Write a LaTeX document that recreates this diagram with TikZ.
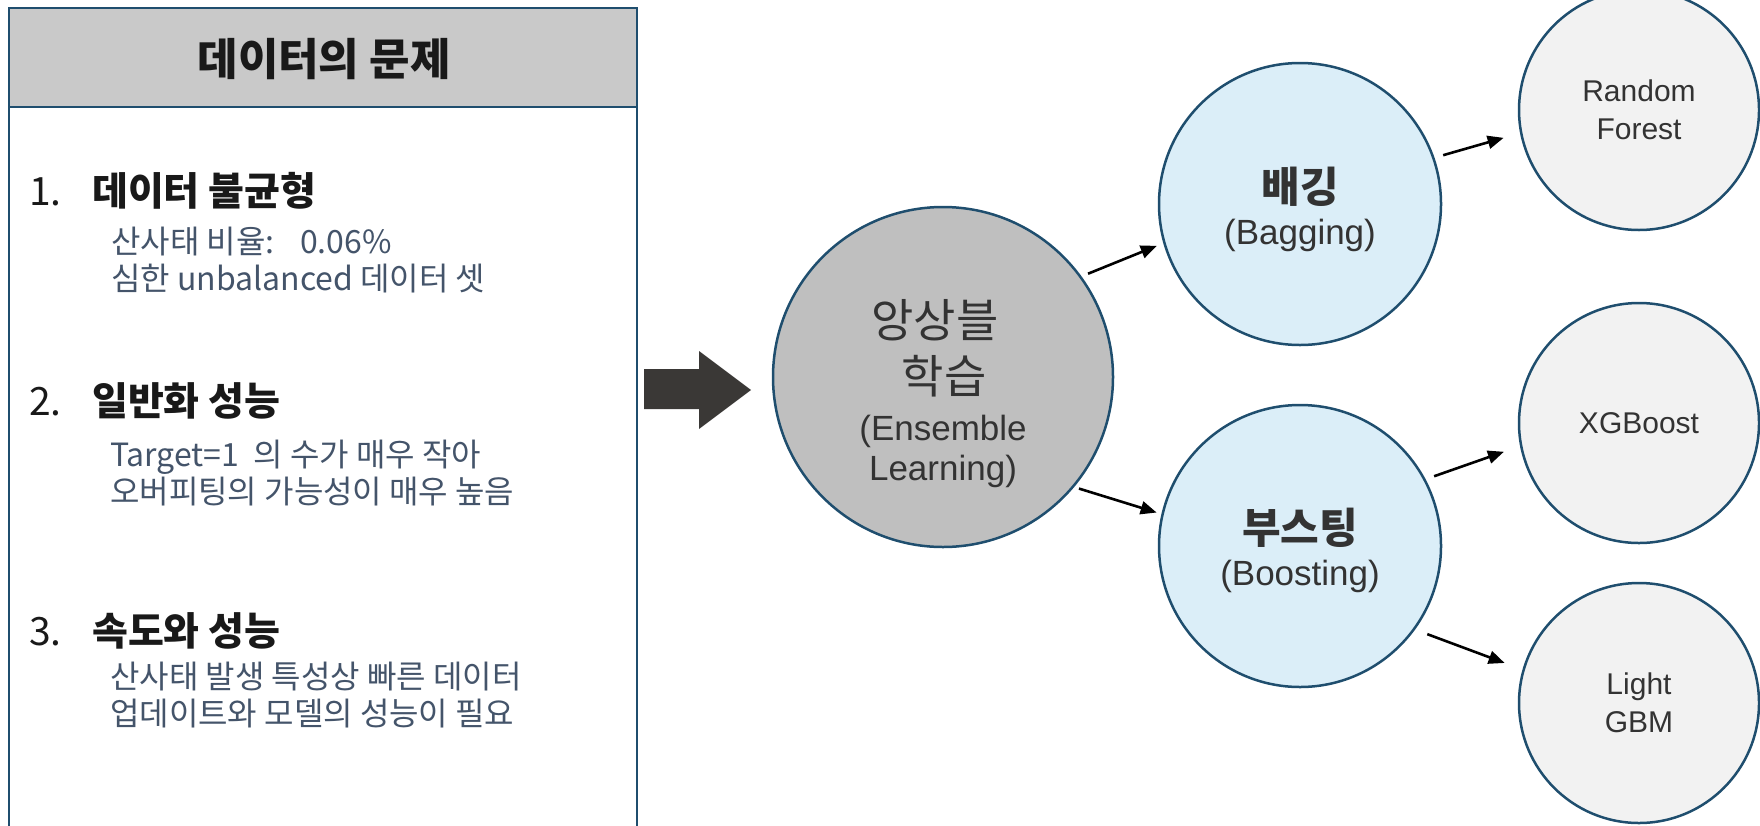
\documentclass[tikz,border=0pt]{standalone}
\usepackage{fontspec}
\setmainfont{Noto Sans CJK KR}
\newfontfamily\latinsf{Liberation Sans}
\usetikzlibrary{arrows.meta}
\definecolor{edgeblue}{HTML}{1F4E6E}
\definecolor{hdrgray}{HTML}{C9C9C9}
\definecolor{subtxt}{HTML}{44546A}
\definecolor{enscol}{HTML}{BFBFBF}
\definecolor{bagcol}{HTML}{DBEEF8}
\definecolor{leafcol}{HTML}{F2F2F2}
\definecolor{blkcol}{HTML}{3A3836}
\definecolor{circtxt}{HTML}{333333}
\tikzset{
    frame/.style={draw=edgeblue, line width=2pt},
    heading/.style={anchor=west, inner sep=0pt, text=black!90, font=\bfseries\fontsize{39}{44}\selectfont},
    detail/.style={anchor=west, inner sep=0pt, align=left, text=subtxt, font=\fontsize{32}{37}\selectfont},
    ball/.style={circle, draw=edgeblue, line width=2.5pt, inner sep=0pt, align=center, text=circtxt, minimum size=#1},
    enskr/.style={anchor=base, inner sep=0pt, text=circtxt, font=\fontsize{46}{50}\selectfont},
    ensen/.style={anchor=base, inner sep=0pt, text=circtxt, font=\latinsf\fontsize{35}{41}\selectfont},
    link/.style={-{Triangle[length=16pt,width=13pt]}, line width=2.6pt}
}

\begin{document}
\begin{tikzpicture}[x=1pt,y=-1pt]

		\useasboundingbox (0,0) rectangle (1760,825);
		\clip (0,0) rectangle (1760,825);

		% Problem box
		\fill [hdrgray] (9,8) rectangle (637,107);
		\draw [frame] (9,8) rectangle (637,850);
		\draw [frame] (9,107) -- (637,107);
		\node [text=black!90, font=\bfseries\fontsize{44}{50}\selectfont] (ttl) at (324,59) {데이터의 문제};

		% Item 1
		\node [heading] (h1) at (29,191) {\makebox[63pt][l]{\mdseries 1.}데이터 불균형};
		\node [detail] (d1) at (111,260) {산사태 비율:\hspace{0.8em}0.06\%\\심한 unbalanced 데이터 셋};

		% Item 2
		\node [heading] (h2) at (29,401) {\makebox[63pt][l]{\mdseries 2.}일반화 성능};
		\node [detail] (d2) at (110,473) {Target=1\ \ 의 수가 매우 작아\\오버피팅의 가능성이 매우 높음};

		% Item 3
		\node [heading] (h3) at (29,631) {\makebox[63pt][l]{\mdseries 3.}속도와 성능};
		\node [detail] (d3) at (110,695) {산사태 발생 특성상 빠른 데이터\\업데이트와 모델의 성능이 필요};

		% Block arrow
		\fill [blkcol] (644,369) -- (699,369) -- (699,351) -- (751,390) -- (699,429) -- (699,409) -- (644,409) -- cycle;

		% Ensemble learning
		\node [ball=340pt, fill=enscol] (ens) at (943,377) {};
		\node [enskr] (enskra) at (935,337) {앙상블};
		\node [enskr] (enskrb) at (944,393) {학습};
		\node [ensen] (ensena) at (943,440) {(Ensemble};
		\node [ensen] (ensenb) at (943,480) {Learning)};

		% Bagging and boosting
		\node [ball=282pt, fill=bagcol, font=\latinsf\fontsize{35}{42}\selectfont] (bag) at (1300,204)
			{{\rmfamily\bfseries\fontsize{42}{42}\selectfont\rule{0pt}{46pt}배깅}\\(Bagging)};
		\node [ball=282pt, fill=bagcol, font=\latinsf\fontsize{35}{42}\selectfont] (boost) at (1300,546)
			{{\rmfamily\bfseries\fontsize{42}{42}\selectfont\rule{0pt}{44pt}부스팅}\\(Boosting)};

		% Models
		\node [ball=240pt, fill=leafcol, font=\latinsf\fontsize{30}{38}\selectfont] (rf) at (1639,110) {Random\\Forest};
		\node [ball=240pt, fill=leafcol, font=\latinsf\fontsize{30}{38}\selectfont] (xgb) at (1639,423) {XGBoost};
		\node [ball=240pt, fill=leafcol, font=\latinsf\fontsize{30}{38}\selectfont] (lgbm) at (1639,703) {Light\\GBM};

		% Links
		\draw [link, shorten <=7pt, shorten >=7pt] (ens.36) -- (bag.196);
		\draw [link, shorten <=5pt, shorten >=5pt] (ens.320) -- (boost.167);
		\draw [link, shorten <=9pt, shorten >=17pt] (bag.19) -- (rf.191);
		\draw [link, shorten <=9pt, shorten >=17pt] (boost.28) -- (xgb.191);
		\draw [link, shorten <=13pt, shorten >=19pt] (boost.324) -- (lgbm.164);

	\end{tikzpicture}
\end{document}
